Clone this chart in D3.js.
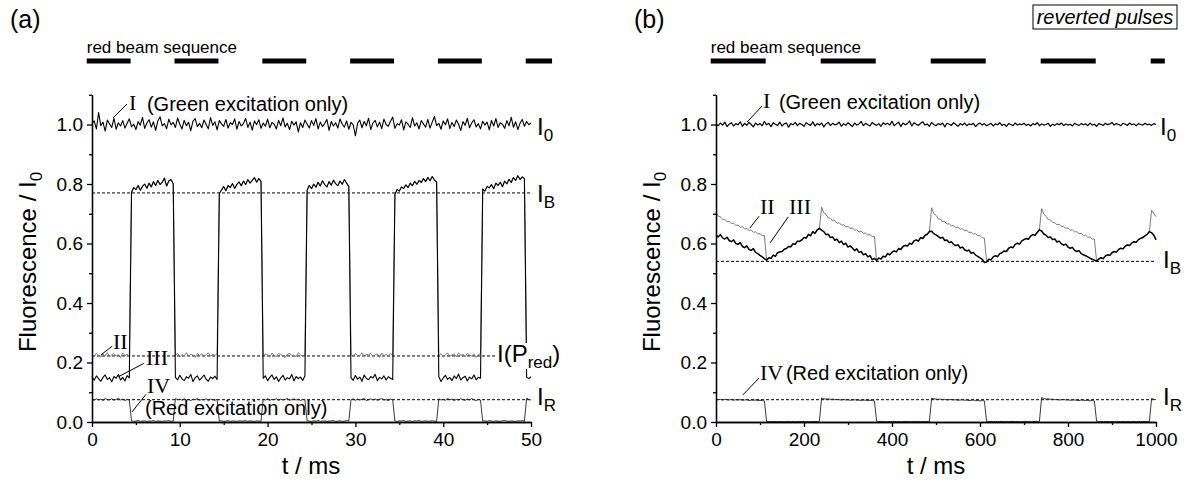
<!DOCTYPE html>
<html><head><meta charset="utf-8">
<script src="https://cdn.jsdelivr.net/npm/d3@7"></script>
<style>
body{margin:0;background:#fff}
svg{display:block}
text{font-family:"Liberation Sans",Arial,Helvetica,sans-serif;fill:#000}
.serif{font-family:"Liberation Serif","Times New Roman",serif}
</style>
</head><body>
<svg id="c" width="1192" height="482"></svg>
<script>
const _ = null;
// ---------- Panel (a): t in ms, sampled every 0.25 ms; values in 1/1000 of I0 ----------
const aStep = 0.25;
const aGreen = [
1003,1012,985,1040,996,1008,978,1015,1002,990,1021,984,1006,995,1013,988,1004,1019,992,1001,
983,1010,998,1024,987,1005,1016,991,1009,980,1012,1026,995,1003,986,1018,999,1007,990,1022,
1001,985,1014,996,1008,979,1011,1020,993,1004,989,1015,1000,986,1023,997,1009,982,1013,1002,
994,1017,988,1006,1000,1019,984,1010,995,1003,1021,990,1008,981,1012,999,1016,987,1005,994,
1018,989,1007,1001,985,1014,996,1022,992,1004,983,1011,998,1009,975,1006,990,1015,1002,988,
1013,997,1020,985,1008,993,1003,1017,980,1010,995,1006,988,1019,1001,991,1012,984,1007,999,
962,1004,1015,989,1010,996,1021,983,1005,1014,992,1008,986,1018,1000,994,1011,1025,987,1003,
998,1016,982,1009,1001,990,1023,995,1006,985,1013,1002,991,1017,988,1008,1027,996,1004,984,
1012,999,1019,986,1007,993,1015,1001,980,1010,997,1021,989,1005,1016,992,1003,985,1011,998,
1008,982,1014,995,1020,990,1006,1001,987,1013,996,1024,991,1009,983,1004,1017,994,1010,999,
1005];
const aIII = [
152,140,155,146,137,150,158,143,149,135,153,147,160,141,150,138,156,148,
772,788,781,795,779,792,800,786,803,790,808,795,812,798,806,820,793,810,815,801,
150,142,157,145,139,152,147,160,136,149,155,141,148,158,144,137,151,146,154,143,
768,780,791,777,795,788,802,785,799,807,794,810,798,815,803,812,822,806,818,809,
147,155,139,150,158,143,152,136,148,157,141,149,145,160,138,153,146,151,140,155,
779,795,784,800,789,806,793,811,798,790,808,796,813,801,794,810,799,815,803,792,
149,140,156,144,151,137,158,146,142,153,148,160,139,150,145,155,141,152,147,143,
765,782,776,790,785,797,788,803,794,809,799,812,805,818,808,822,811,825,814,806,
152,136,148,157,143,150,139,155,146,161,141,149,154,138,151,145,158,142,150,147,
783,776,792,787,798,784,803,795,806,791,810,800,816,805,822,812,828,815,824,818,
150,146,152];
// trace II while the red beam is on (it coincides with III otherwise)
const aIIred = [
228,220,231,224,218,229,222,233,219,226,230,221,227,216,232,223,228,220,
_,_,_,_,_,_,_,_,_,_,_,_,_,_,_,_,_,_,_,_,
224,231,218,227,222,233,220,228,225,217,230,223,229,219,226,232,221,227,224,229,
_,_,_,_,_,_,_,_,_,_,_,_,_,_,_,_,_,_,_,_,
221,229,226,218,232,224,220,230,227,222,216,228,231,223,225,219,233,226,221,228,
_,_,_,_,_,_,_,_,_,_,_,_,_,_,_,_,_,_,_,_,
227,219,230,224,222,233,218,228,225,231,220,226,229,217,232,223,227,221,230,224,
_,_,_,_,_,_,_,_,_,_,_,_,_,_,_,_,_,_,_,_,
223,230,218,227,232,221,226,229,219,233,224,228,220,231,225,222,229,217,227,230,
_,_,_,_,_,_,_,_,_,_,_,_,_,_,_,_,_,_,_,_,
225,222,228];
const aIV = [
76,73,78,74,77,72,79,75,74,78,73,76,80,74,77,72,76,74,
4,2,3,5,2,3,4,2,3,3,5,2,4,3,2,4,3,5,2,3,
79,75,77,73,78,74,76,72,77,75,79,73,76,74,78,72,77,75,73,76,
3,4,2,3,5,2,4,3,2,4,3,3,5,2,4,3,2,4,3,2,
77,74,79,73,76,75,78,72,77,74,76,79,73,75,78,74,77,72,76,75,
4,3,2,4,3,5,2,3,4,2,3,4,5,2,3,4,2,3,5,3,
75,78,73,77,74,76,79,72,75,78,74,77,73,76,79,74,75,72,77,74,
3,2,4,3,5,2,3,4,2,4,3,5,2,3,4,2,3,4,3,2,
78,74,76,73,79,75,77,72,76,74,78,75,73,77,74,79,75,72,76,74,
3,4,2,5,3,2,4,3,2,4,5,3,2,4,3,2,4,3,5,2,
80,76,74];
const aRedOn = [[-0.6,4.4],[9.4,14.4],[19.4,24.4],[29.4,34.4],[39.4,44.4],[49.4,52.4]];
const aLevelB = 0.77, aLevelPred = 0.222, aLevelR = 0.075;
const aXMajor = [0,10,20,30,40,50], aXMinor = [5,15,25,35,45];

// ---------- Panel (b): t in ms, sampled every 5 ms ----------
const bStep = 5;
const bGreen = [
1002,996,1005,998,1008,993,1001,1006,995,1003,999,1009,994,1004,997,1007,1000,992,1005,998,
1003,996,1010,999,1004,993,1006,1001,997,1008,995,1002,1005,991,1003,999,1007,996,1004,1000,
994,1006,1001,997,1009,995,1003,998,1005,992,1002,1007,996,1004,999,1001,1008,994,1003,997,
1006,1000,993,1005,998,1002,1010,996,1004,999,995,1007,1001,997,1003,994,1006,1000,1004,998,
1011,996,1002,1008,993,1005,999,1003,1012,995,1006,1001,997,1004,1009,998,1002,994,1007,1000,
996,1003,999,1005,992,1004,1001,997,1006,1000,994,1003,998,1005,996,1002,999,1004,993,1001,
1005,998,1003,996,1000,1004,995,1002,999,1006,997,1001,994,1003,1000,996,1005,998,1002,999,
1004,997,1001,995,1003,999,1006,996,1002,998,1000,1004,994,1001,997,1003,999,1005,996,1002,
998,1001,995,1004,1000,997,1003,999,1002,996,1005,998,1001,994,1003,1000,997,1004,999,1002,
1007,998,1003,1000,996,1004,1001,997,1005,999,1002,996,1003,1000,998,1004,999,1001,997,1003,1000];
const bIII = [
628,622,630,619,615,621,610,606,612,600,597,603,590,586,592,580,577,583,570,566,560,555,549,
544,552,550,561,557,569,572,573,581,583,590,589,599,597,608,607,612,620,618,631,626,640,634,646,651,
645,640,630,631,620,622,611,615,603,608,596,601,588,592,585,576,582,570,573,562,566,555,559,546,550,
543,551,548,557,555,566,562,571,575,572,583,580,590,594,591,601,598,609,612,608,620,617,627,631,640,
641,633,629,624,618,621,610,612,603,606,597,593,596,585,588,579,575,578,567,570,561,557,552,547,536,
538,547,545,555,559,556,566,569,575,573,584,588,586,597,601,598,609,613,617,614,625,630,628,637,646,
642,632,628,620,622,613,615,605,608,599,595,598,588,584,587,577,573,576,566,562,559,555,551,547,544,
540,548,552,549,558,562,560,569,573,571,580,584,582,591,595,593,602,606,604,613,617,620,626,631,640,
636,628,612];
// trace II while the red beam is on (it coincides with III otherwise)
const bIIred = [
704,692,690,681,681,674,674,667,668,661,662,655,656,649,651,644,645,638,639,632,633,626,627,
_,_,_,_,_,_,_,_,_,_,_,_,_,_,_,_,_,_,_,_,_,_,_,_,_,
722,703,698,686,685,676,677,668,670,662,663,656,658,650,652,645,646,639,641,634,635,628,630,623,624,
_,_,_,_,_,_,_,_,_,_,_,_,_,_,_,_,_,_,_,_,_,_,_,_,_,
720,700,695,683,682,673,674,665,667,659,661,653,655,648,650,642,644,637,638,632,633,626,627,619,618,
_,_,_,_,_,_,_,_,_,_,_,_,_,_,_,_,_,_,_,_,_,_,_,_,_,
717,699,692,681,679,671,670,663,664,657,657,651,652,645,646,639,640,633,634,627,628,621,622,615,615,
_,_,_,_,_,_,_,_,_,_,_,_,_,_,_,_,_,_,_,_,_,_,_,_,_,
712,700,690];
const bIV = [
77,75,76,74,76,75,74,76,73,75,74,75,73,74,75,72,74,73,74,72,73,72,71,
1,2,1,2,2,1,2,1,1,2,2,1,2,1,2,2,1,2,1,2,1,2,2,1,2,
81,78,77,78,76,77,75,76,75,74,76,74,75,73,74,75,73,74,72,74,73,72,73,72,71,
2,1,2,2,1,2,1,2,2,1,2,1,1,2,2,1,2,1,2,2,1,2,1,2,1,
80,78,77,76,77,75,76,74,75,76,74,75,73,74,75,73,74,72,73,74,72,73,71,72,71,
1,2,2,1,2,1,2,2,1,2,1,2,2,1,2,1,1,2,2,1,2,1,2,2,1,
82,79,77,78,76,77,75,76,74,75,76,74,75,73,74,74,73,72,74,73,72,73,71,72,71,
2,1,2,1,2,2,1,2,1,2,2,1,2,1,2,1,2,2,1,2,1,2,1,2,2,
79,76,75];
const bRedOn = [[-12,113],[238,363],[488,613],[738,863],[988,1020]];
const bLevelB = 0.54, bLevelR = 0.075;
const bXMajor = [0,200,400,600,800,1000], bXMinor = [100,300,500,700,900];

const yMajor = [0,0.2,0.4,0.6,0.8,1.0], yMinor = [0.1,0.3,0.5,0.7,0.9,1.1];

// ---------- drawing ----------
const svg = d3.select("#c");
svg.append("rect").attr("width",1192).attr("height",482).attr("fill","#fff");
const y = d3.scaleLinear().domain([0,1.1]).range([422, 422-1.1*297.5]);
const xA = d3.scaleLinear().domain([0,50]).range([92,531]);
const xB = d3.scaleLinear().domain([0,1000]).range([716,1156]);

const toPts = (arr, step) => arr.map((v,i)=>({t:i*step, v: v===null?null:v/1000}));
const mergeII = (red, base) => red.map((v,i)=> v===null ? base[i] : v);

function axes(x, xMajor, xMinor, xFmt){
  const g = svg.append("g");
  const ax = (sel)=>{ sel.selectAll("path,line").attr("stroke","#000").attr("stroke-width",1.3);
    sel.selectAll("text").attr("font-size",19).attr("fill","#000").attr("font-family",'"Liberation Sans",Arial,sans-serif'); };
  g.append("g").attr("transform",`translate(${x(0)},0)`)
   .call(d3.axisLeft(y).tickValues(yMinor).tickSize(3).tickSizeOuter(0).tickFormat("")).call(ax);
  g.append("g").attr("transform",`translate(${x(0)},0)`)
   .call(d3.axisLeft(y).tickValues(yMajor).tickSize(5).tickSizeOuter(0).tickPadding(4).tickFormat(d3.format(".1f"))).call(ax);
  g.append("g").attr("transform",`translate(0,${y(0)})`)
   .call(d3.axisBottom(x).tickValues(xMinor).tickSize(3).tickSizeOuter(0).tickFormat("")).call(ax);
  g.append("g").attr("transform",`translate(0,${y(0)})`)
   .call(d3.axisBottom(x).tickValues(xMajor).tickSize(5).tickSizeOuter(0).tickPadding(6).tickFormat(xFmt)).call(ax);
  g.selectAll(".domain").attr("fill","none");
}

function trace(x, pts, color, w){
  const line = d3.line().defined(d=>d.v!==null).x(d=>x(d.t)).y(d=>y(d.v));
  svg.append("path").attr("d",line(pts)).attr("fill","none").attr("stroke",color)
    .attr("stroke-width",w).attr("stroke-linejoin","round");
}
function dashed(x, lvl, t0, t1){
  svg.append("line").attr("x1",x(t0)).attr("x2",x(t1)).attr("y1",y(lvl)).attr("y2",y(lvl))
    .attr("stroke","#000").attr("stroke-width",1).attr("stroke-dasharray","3,2");
}
function redBeam(x, segs, label){
  svg.append("text").attr("x",x(segs[0][0])).attr("y",53).attr("font-size",17).text(label);
  svg.selectAll(null).data(segs).enter().append("line")
    .attr("x1",d=>x(d[0])).attr("x2",d=>x(d[1])).attr("y1",61).attr("y2",61)
    .attr("stroke","#000").attr("stroke-width",5);
}
function ilabel(px, py, main, sub, extra, bg){
  const t = svg.append("text").attr("x",px).attr("y",py).attr("font-size",24);
  t.append("tspan").text(main);
  t.append("tspan").attr("font-size",17).attr("dy",6).text(sub);
  if(extra) t.append("tspan").attr("dy",-6).text(extra);
  if(bg){ const b=t.node().getBBox();
    svg.insert("rect", ()=>t.node()).attr("x",b.x-2).attr("y",b.y+3).attr("width",b.width+4).attr("height",b.height-6).attr("fill","#fff"); }
}
function leader(x, p){
  svg.append("line").attr("x1",x(p[0][0])).attr("y1",y(p[0][1])).attr("x2",x(p[1][0])).attr("y2",y(p[1][1]))
    .attr("stroke","#000").attr("stroke-width",1);
}
function roman(x, t, v, s){ svg.append("text").attr("class","serif").attr("x",x(t)).attr("y",y(v)).attr("font-size",22).text(s); }
function note(x, t, v, s){ svg.append("text").attr("x",x(t)).attr("y",y(v)).attr("font-size",20).text(s); }
function titles(cx, lx){
  svg.append("text").attr("x",cx).attr("y",474).attr("text-anchor","middle").attr("font-size",24).text("t / ms");
  const yt = svg.append("text").attr("transform",`translate(${lx},262) rotate(-90)`).attr("text-anchor","middle").attr("font-size",24);
  yt.append("tspan").text("Fluorescence / I");
  yt.append("tspan").attr("font-size",17).attr("dy",6).text("0");
}

// Panel (a)
svg.append("text").attr("x",10).attr("y",28).attr("font-size",25).text("(a)");
redBeam(xA, aRedOn, "red beam sequence");
dashed(xA, aLevelB, 0, 50); dashed(xA, aLevelPred, 0, 50); dashed(xA, aLevelR, 0, 50);
const aIIIp = toPts(aIII, aStep);
trace(xA, toPts(mergeII(aIIred, aIII), aStep), "#7a7a7a", 1);
trace(xA, aIIIp, "#000", 1.1);
trace(xA, toPts(aIV, aStep), "#222", 0.9);
trace(xA, toPts(aGreen, aStep), "#000", 1.1);
axes(xA, aXMajor, aXMinor, d3.format("d"));
titles(311, 36);
ilabel(537, 135, "I", "0");
ilabel(537, 202, "I", "B");
ilabel(497, 362, "I(P", "red", ")", true);
ilabel(537, 405, "I", "R");
leader(xA, [[2.39,1.022],[3.99,1.069]]); roman(xA, 4.2, 1.049, "I"); note(xA, 6.26, 1.047, "(Green excitation only)");
leader(xA, [[1.0,0.225],[2.3,0.255]]); roman(xA, 2.39, 0.245, "II");
leader(xA, [[3.0,0.152],[5.9,0.197]]); roman(xA, 6.15, 0.19, "III");
leader(xA, [[4.56,0.034],[6.15,0.093]]); roman(xA, 6.26, 0.098, "IV"); note(xA, 6.04, 0.022, "(Red excitation only)");

// Panel (b)
svg.append("text").attr("x",634).attr("y",28).attr("font-size",25).text("(b)");
svg.append("rect").attr("x",1033).attr("y",5).attr("width",144).attr("height",24).attr("fill","#fff").attr("stroke","#000").attr("stroke-width",1);
svg.append("text").attr("x",1105).attr("y",24).attr("text-anchor","middle").attr("font-size",20).attr("font-style","italic").text("reverted pulses");
redBeam(xB, bRedOn, "red beam sequence");
dashed(xB, bLevelB, 0, 1000); dashed(xB, bLevelR, 0, 1000);
trace(xB, toPts(mergeII(bIIred, bIII), bStep), "#7a7a7a", 1);
trace(xB, toPts(bIII, bStep), "#000", 1.5);
trace(xB, toPts(bIV, bStep), "#222", 0.9);
trace(xB, toPts(bGreen, bStep), "#000", 1.2);
axes(xB, bXMajor, bXMinor, d3.format("d"));
titles(936, 660);
ilabel(1160, 135, "I", "0");
ilabel(1163, 268, "I", "B");
ilabel(1163, 405, "I", "R");
leader(xB, [[70.5,1.008],[104.5,1.062]]); roman(xB, 107, 1.055, "I"); note(xB, 143, 1.052, "(Green excitation only)");
leader(xB, [[77,0.652],[98,0.692]]); roman(xB, 100, 0.699, "II");
leader(xB, [[123,0.602],[164,0.689]]); roman(xB, 166, 0.699, "III");
leader(xB, [[61,0.091],[98,0.148]]); roman(xB, 100, 0.141, "IV"); note(xB, 159, 0.141, "(Red excitation only)");
</script>
</body></html>
